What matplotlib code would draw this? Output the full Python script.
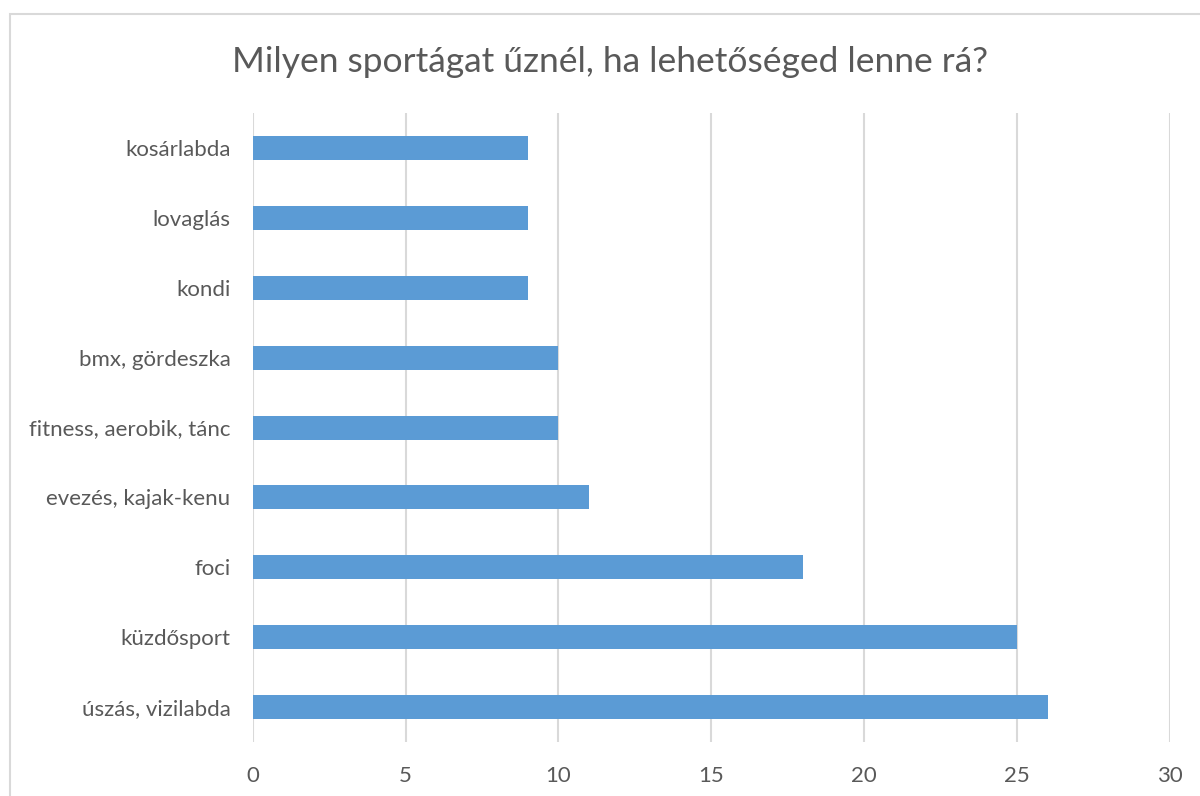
import matplotlib.pyplot as plt
from matplotlib.patches import Rectangle

# Categories listed bottom to top, as drawn on the chart
categories = ['úszás, vizilabda', 'küzdősport', 'foci', 'evezés, kajak-kenu',
              'fitness, aerobik, tánc', 'bmx, gördeszka', 'kondi', 'lovaglás',
              'kosárlabda']
values = [26, 25, 18, 11, 10, 10, 9, 9, 9]
x_ticks = [0, 5, 10, 15, 20, 25, 30]

TEXT = '#595959'
GRID = '#d9d9d9'
BAR = '#5b9bd5'

plt.rcParams['font.family'] = ['Lato', 'DejaVu Sans']

fig = plt.figure(figsize=(12, 7.96), dpi=100)
ax = fig.add_axes([0.2106, 0.0678, 0.975 - 0.2106, 0.858 - 0.0678])

# outer chart border (cropped on right and bottom in the reference)
fig.patches.append(Rectangle((9.5 / 1200, -0.1), 1.2, 1 - 14 / 796 + 0.1,
                             transform=fig.transFigure, fill=False,
                             edgecolor=GRID, linewidth=1.5))

y = range(len(categories))
ax.barh(y, values, height=0.343, color=BAR, zorder=3)

ax.set_xlim(0, 30)
ax.set_ylim(-0.5, len(categories) - 0.5)
ax.set_xticks(x_ticks)
ax.set_xticklabels([str(t) for t in x_ticks])
ax.set_yticks(list(y))
ax.set_yticklabels(categories)

ax.grid(axis='x', color=GRID, linewidth=1.5, zorder=0)
for s in ax.spines.values():
    s.set_visible(False)
ax.tick_params(axis='both', length=0, labelsize=16, labelcolor=TEXT)
ax.tick_params(axis='x', pad=17)
ax.tick_params(axis='y', pad=16)

fig.text(0.508, 1 - 62 / 796, 'Milyen sportágat űznél, ha lehetőséged lenne rá?',
         ha='center', va='center', fontsize=25.5, color=TEXT)

fig.savefig('out.png', dpi=100)
